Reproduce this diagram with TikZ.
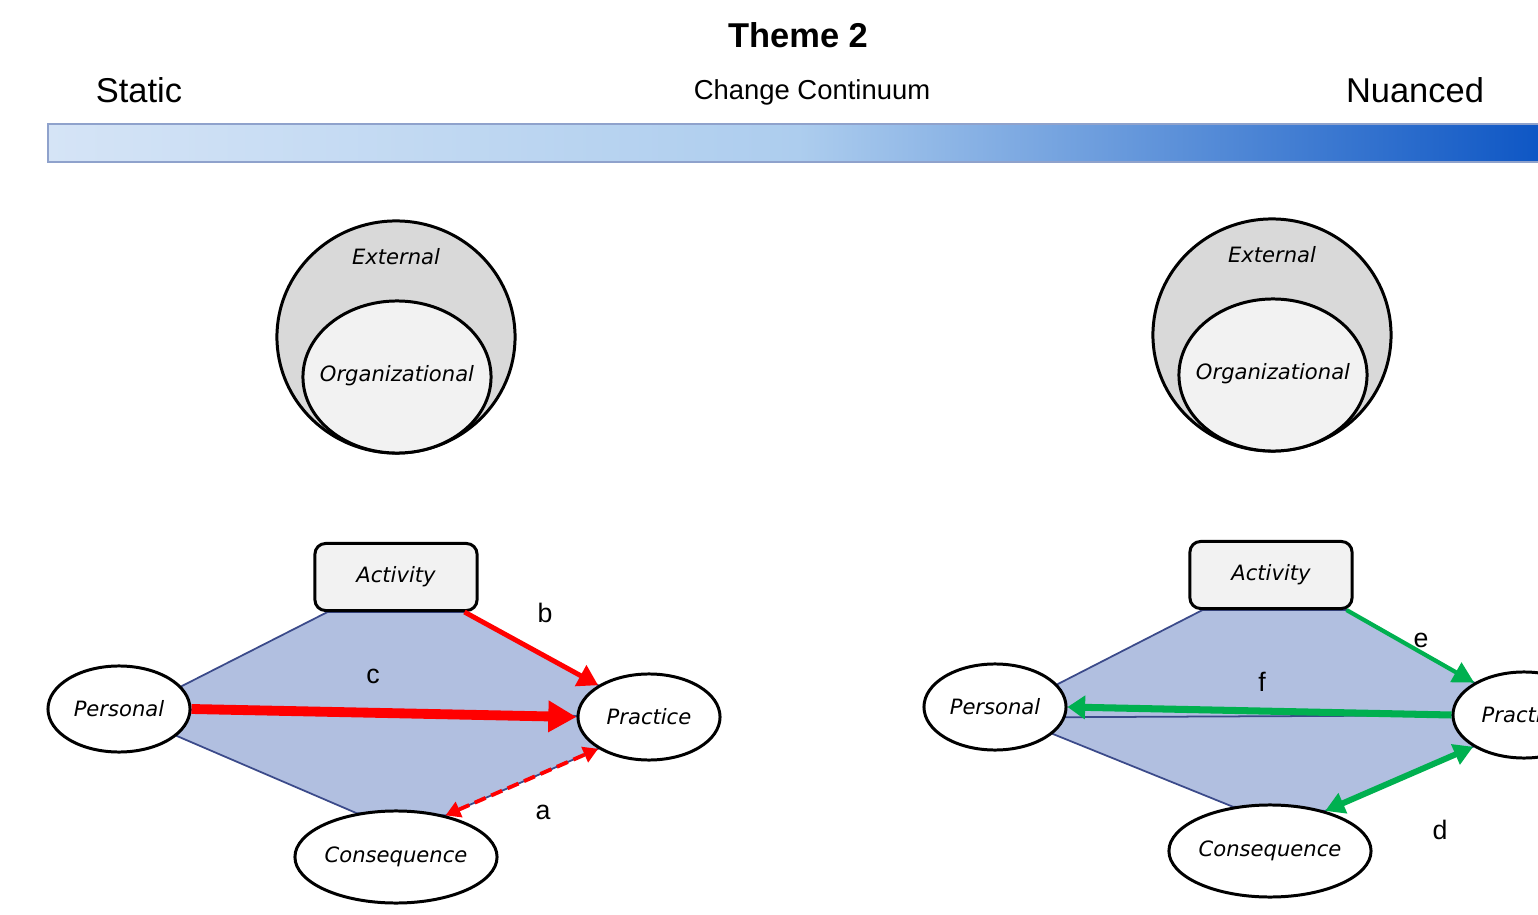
\documentclass[tikz,border=0pt]{standalone}
\usepackage{fontspec}
\setmainfont{Liberation Sans}
\newfontfamily\verd{DejaVu Sans}
\usetikzlibrary{arrows.meta, shapes.geometric, backgrounds}
\definecolor{hexfill}{HTML}{B1BFE0}
\definecolor{hexline}{HTML}{3B4A8A}
\definecolor{outergray}{HTML}{D9D9D9}
\definecolor{innergray}{HTML}{F2F2F2}
\definecolor{arrred}{HTML}{FF0000}
\definecolor{arrgreen}{HTML}{00B050}
\definecolor{barleft}{HTML}{D5E4F6}
\definecolor{barmid}{HTML}{ADCDEE}
\definecolor{barright}{HTML}{0C55C4}
\definecolor{barline}{HTML}{8FA2CC}
\tikzset{
  lbl/.style = {font=\verd\itshape\fontsize{6}{7}\selectfont},
  oval/.style = {ellipse, draw, line width=0.85pt, fill=white, inner sep=0pt, lbl},
  actbox/.style = {rectangle, rounded corners=3pt, draw, line width=0.85pt, fill=innergray,
    minimum width=1.62cm, minimum height=0.67cm, inner sep=0pt, lbl},
  outerc/.style = {ellipse, draw, line width=0.85pt, fill=outergray, minimum width=2.38cm, minimum height=2.32cm},
  innerc/.style = {ellipse, draw, line width=0.85pt, fill=innergray, minimum width=1.88cm, minimum height=1.52cm},
  letter/.style = {font=\fontsize{7.6}{9}\selectfont},
  redarr/.style = {draw=arrred, line width=#1},
  greenarr/.style = {draw=arrgreen, line width=#1},
  hexedge/.style = {draw=hexline, line width=0.5pt}
}

\begin{document}
\begin{tikzpicture}[x=0.01cm, y=-0.01cm]
\useasboundingbox (0,0) rectangle (1538,915);
\clip (0,0) rectangle (1538,915);

\node [font=\bfseries\fontsize{9.8}{12}\selectfont] (title) at (798,35) {Theme 2};
\node [font=\fontsize{9.8}{12}\selectfont] (static) at (139,90) {Static};
\node [font=\fontsize{7.8}{10}\selectfont] (cont) at (812,92) {Change Continuum};
\node [font=\fontsize{9.8}{12}\selectfont] (nuanced) at (1415,90) {Nuanced};
\shadedraw [left color=barleft, right color=barright, middle color=barmid, draw=barline, line width=0.4pt]
  (48,124) rectangle (1548,162);

\node [outerc] (ext) at (396,337) {};
\node [innerc] (org) at (397,377) {};
\node [lbl] (orglabel) at (397,376) {Organizational};
\node [lbl] (extlabel) at (396,257) {External};

\node [outerc] (ext2) at (1272,335) {};
\node [innerc] (org2) at (1273,375) {};
\node [lbl] (orglabel2) at (1273,374) {Organizational};
\node [lbl] (extlabel2) at (1272,255) {External};

\node [actbox] (act) at (396,577) {Activity};
\node [oval, minimum width=1.42cm, minimum height=0.86cm] (pers) at (119,709) {Personal};
\node [oval, minimum width=1.42cm, minimum height=0.86cm] (prac) at (649,717) {Practice};
\node [oval, minimum width=2.02cm, minimum height=0.92cm] (cons) at (396,857) {Consequence};

\node [actbox] (act2) at (1271,575) {Activity};
\node [oval, minimum width=1.42cm, minimum height=0.86cm] (pers2) at (995,707) {Personal};
\node [oval, minimum width=1.42cm, minimum height=0.86cm] (prac2) at (1524,715) {Practice};
\node [oval, minimum width=2.02cm, minimum height=0.92cm] (cons2) at (1270,851) {Consequence};

\begin{pgfonlayer}{background}
\filldraw [fill=hexfill, hexedge] ([xshift=4pt]act.south west) -- ([xshift=-4pt]act.south east) -- (prac.148) -- (prac.212) -- (cons.40) -- (cons.132) -- (pers.-25) -- (pers.20) -- cycle;
\draw [hexedge] (pers.center) -- (prac.center);
\filldraw [fill=hexfill, hexedge] ([xshift=4pt]act2.south west) -- ([xshift=-2pt]act2.south east) -- (prac2.147) -- (prac2.212) -- (cons2.36) -- (cons2.130) -- (pers2.-25) -- (pers2.20) -- cycle;
\draw [hexedge] ([yshift=-3pt]pers2.center) -- (prac2.center);
\end{pgfonlayer}

\draw [redarr=1.4pt, -{Triangle[length=5.7pt, width=6.5pt]}] ([xshift=-4pt]act.south east) -- (prac.148);
\draw [redarr=2.8pt, -{Triangle[length=8pt, width=8.5pt]}] (pers.east) -- (prac.west);
\draw [redarr=1.1pt, dash pattern=on 3.4pt off 1.7pt, {Triangle[length=4.2pt, width=4.6pt]}-{Triangle[length=4.2pt, width=4.6pt]}] (cons.40) -- (prac.212);
\node [letter] (lb) at (545,613) {b};
\node [letter] (lc) at (373,676) {c};
\node [letter] (la) at (543,812) {a};

\draw [greenarr=1.2pt, -{Triangle[length=6pt, width=6.2pt]}] ([xshift=-2pt]act2.south east) -- (prac2.147);
\draw [greenarr=2pt, -{Triangle[length=5pt, width=6.5pt]}] (prac2.west) -- (pers2.east);
\draw [greenarr=1.7pt, {Triangle[length=5.5pt, width=6pt]}-{Triangle[length=5.5pt, width=6pt]}] (cons2.36) -- (prac2.212);
\node [letter] (le) at (1421,640) {e};
\node [letter] (lf) at (1262,682) {f};
\node [letter] (ld) at (1440,830) {d};
\end{tikzpicture}
\end{document}
